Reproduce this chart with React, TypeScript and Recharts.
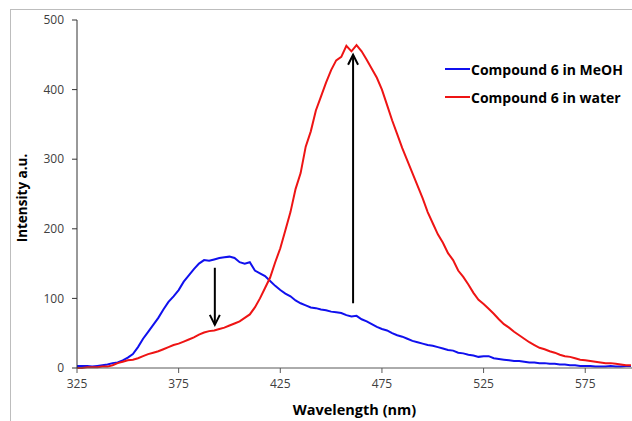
import React from 'react';
import {
    LineChart,
    Line,
    XAxis,
    YAxis,
    ReferenceLine
} from 'recharts';

// Emission spectra of compound 6, MeOH vs water

const wavelengths = [
    325, 327.5, 330, 332.5, 335, 337.5, 340, 342.5, 345, 347.5,
    350, 352.5, 355, 357.5, 360, 362.5, 365, 367.5, 370, 372.5,
    375, 377.5, 380, 382.5, 385, 387.5, 390, 392.5, 395, 397.5,
    400, 402.5, 405, 407.5, 410, 412.5, 415, 417.5, 420, 422.5,
    425, 427.5, 430, 432.5, 435, 437.5, 440, 442.5, 445, 447.5,
    450, 452.5, 455, 457.5, 460, 462.5, 465, 467.5, 470, 472.5,
    475, 477.5, 480, 482.5, 485, 487.5, 490, 492.5, 495, 497.5,
    500, 502.5, 505, 507.5, 510, 512.5, 515, 517.5, 520, 522.5,
    525, 527.5, 530, 532.5, 535, 537.5, 540, 542.5, 545, 547.5,
    550, 552.5, 555, 557.5, 560, 562.5, 565, 567.5, 570, 572.5,
    575, 577.5, 580, 582.5, 585, 587.5, 590, 592.5, 595, 597.5
];

const meohValues = [
    3, 3, 3, 2, 3, 4, 5, 7, 8, 11,
    15, 20, 30, 42, 52, 62, 72, 84, 95, 103,
    112, 124, 133, 142, 150, 155, 154, 156, 158, 159,
    160, 158, 152, 150, 152, 140, 136, 132, 125, 118,
    112, 107, 103, 97, 93, 90, 87, 86, 84, 83,
    81, 80, 79, 76, 74, 75, 70, 67, 63, 59,
    56, 54, 50, 47, 45, 42, 39, 37, 35, 33,
    32, 30, 28, 26, 25, 22, 21, 19, 18, 16,
    17, 17, 14, 13, 12, 11, 10, 10, 9, 8,
    8, 7, 7, 6, 6, 5, 5, 4, 4, 3,
    3, 3, 2, 2, 2, 3, 2, 2, 3, 3
];

const waterValues = [
    0, 0, 1, 1, 1, 2, 2, 4, 7, 9,
    11, 12, 14, 17, 20, 22, 24, 27, 30, 33,
    35, 38, 41, 44, 48, 51, 53, 54, 56, 58,
    61, 64, 67, 72, 77, 87, 100, 115, 130, 152,
    172, 198, 224, 257, 280, 318, 340, 370, 390, 410,
    428, 442, 447, 463, 455, 464, 455, 443, 430, 417,
    400, 378, 356, 336, 316, 298, 280, 262, 244, 224,
    208, 192, 180, 165, 155, 140, 131, 120, 108, 98,
    92, 85, 78, 70, 63, 58, 52, 47, 42, 37,
    33, 29, 27, 24, 22, 19, 17, 16, 14, 12,
    11, 10, 9, 8, 7, 7, 6, 5, 4, 4
];

const xTicks = [325, 375, 425, 475, 525, 575];
const yTicks = [0, 100, 200, 300, 400, 500];

// arrows: [wavelength, from intensity, to intensity]
const arrowDown = [392.8, 144, 62];
const arrowUp = [460.8, 93, 450];

const seriesInfo = [
    { key: 'meoh', name: 'Compound 6 in MeOH', color: '#1010ee' },
    { key: 'water', name: 'Compound 6 in water', color: '#ee1414' }
];

const data = wavelengths.map((wl, i) => ({
    wl,
    meoh: meohValues[i],
    water: waterValues[i]
}));

const FONT = '"Open Sans", Lato, sans-serif';

const ArrowShape = (props: any) => {
    const { x1, y1, x2, y2 } = props;
    const dir = y2 > y1 ? 1 : -1;
    return (
        <g>
            <line x1={x1} y1={y1} x2={x2} y2={y2} stroke="#000" strokeWidth={2} />
            <polyline
                points={`${x2 - 5},${y2 - dir * 10} ${x2},${y2} ${x2 + 5},${y2 - dir * 10}`}
                fill="none"
                stroke="#000"
                strokeWidth={2}
            />
        </g>
    );
};

// legend drawn outside the chart so it takes no room from the plot
const LegendBox = () => (
    <div
        style={{
            position: 'absolute',
            left: 445,
            top: 55,
            fontFamily: FONT,
            fontWeight: 700,
            fontSize: 14,
            color: '#000',
            whiteSpace: 'nowrap'
        }}
    >
        {seriesInfo.map((s) => (
            <div key={s.key} style={{ display: 'flex', alignItems: 'center', height: 28 }}>
                <svg width={25} height={4} style={{ marginRight: 1 }}>
                    <line x1={0} y1={2} x2={25} y2={2} stroke={s.color} strokeWidth={2} />
                </svg>
                <span>{s.name}</span>
            </div>
        ))}
    </div>
);

const App: React.FC = () => {
    return (
        <div style={{ position: 'absolute', left: 0, top: 0, width: 632, height: 421, background: '#fff', overflow: 'hidden' }}>
            <div
                style={{
                    position: 'absolute',
                    left: 10,
                    top: 9,
                    width: 640,
                    height: 430,
                    borderTop: '1px solid #bdbdbd',
                    borderLeft: '1px solid #bdbdbd'
                }}
            />
            <LineChart
                width={632}
                height={421}
                data={data}
                margin={{ top: 20, right: 0, left: 0, bottom: 0 }}
            >
                <XAxis
                    dataKey="wl"
                    type="number"
                    domain={[325, 598]}
                    ticks={xTicks}
                    allowDataOverflow
                    height={53}
                    tickSize={5}
                    tickMargin={6}
                    stroke="#595959"
                    tick={{ fill: '#404040', fontSize: 12, fontFamily: FONT }}
                    label={{
                        content: (p: any) => (
                            <text
                                x={p.viewBox.x + p.viewBox.width / 2}
                                y={p.viewBox.y + 47}
                                textAnchor="middle"
                                fontFamily={FONT}
                                fontWeight={700}
                                fontSize={14.5}
                                fill="#000"
                            >
                                Wavelength (nm)
                            </text>
                        )
                    }}
                />
                <YAxis
                    type="number"
                    domain={[0, 500]}
                    ticks={yTicks}
                    width={77}
                    tickSize={5}
                    tickMargin={8}
                    stroke="#333"
                    tick={{ fill: '#404040', fontSize: 12, fontFamily: FONT }}
                    label={{
                        content: (p: any) => {
                            const cx = p.viewBox.x + 22;
                            const cy = p.viewBox.y + p.viewBox.height / 2 + 4;
                            return (
                                <text
                                    x={cx}
                                    y={cy}
                                    transform={`rotate(-90 ${cx} ${cy})`}
                                    textAnchor="middle"
                                    dominantBaseline="central"
                                    fontFamily={FONT}
                                    fontWeight={700}
                                    fontSize={13.5}
                                    fill="#000"
                                >
                                    Intensity a.u.
                                </text>
                            );
                        }
                    }}
                />
                {seriesInfo.map((s) => (
                    <Line
                        key={s.key}
                        type="linear"
                        dataKey={s.key}
                        name={s.name}
                        stroke={s.color}
                        strokeWidth={2}
                        dot={false}
                        isAnimationActive={false}
                    />
                ))}
                <ReferenceLine
                    segment={[
                        { x: arrowDown[0], y: arrowDown[1] },
                        { x: arrowDown[0], y: arrowDown[2] }
                    ]}
                    shape={ArrowShape}
                />
                <ReferenceLine
                    segment={[
                        { x: arrowUp[0], y: arrowUp[1] },
                        { x: arrowUp[0], y: arrowUp[2] }
                    ]}
                    shape={ArrowShape}
                />
            </LineChart>
            <LegendBox />
        </div>
    );
};

export default App;
